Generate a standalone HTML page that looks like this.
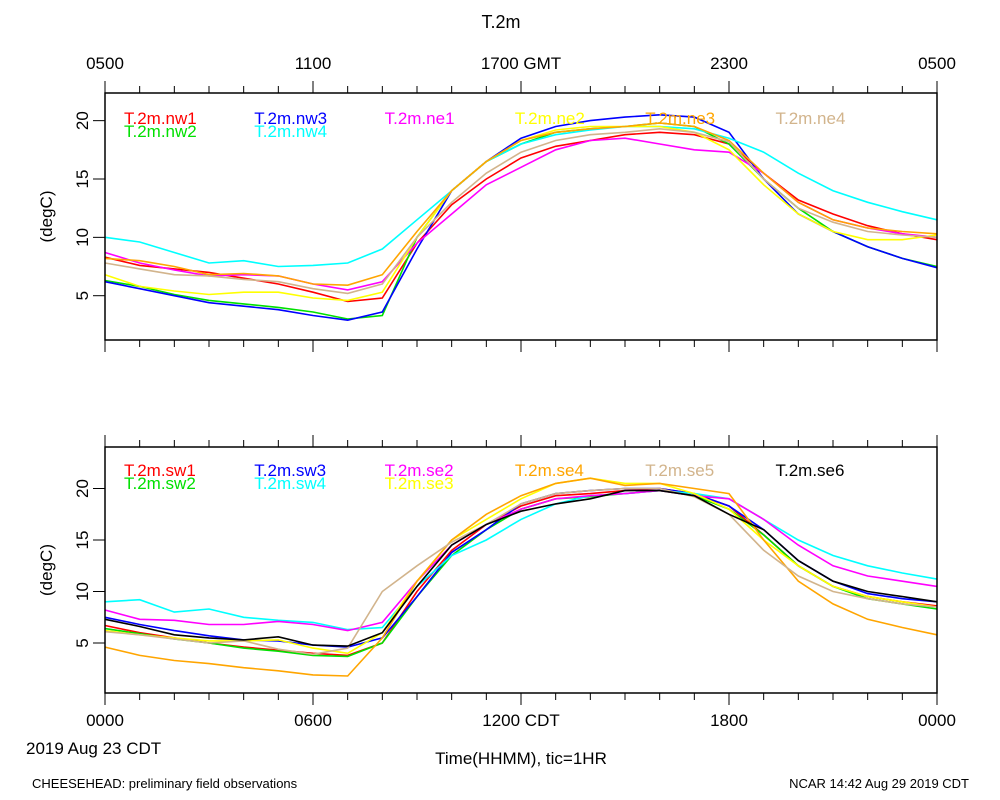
<!DOCTYPE html>
<html><head><meta charset="utf-8"><style>
body{margin:0;background:#fff;}
svg{display:block;font-family:"Liberation Sans",sans-serif;}
</style></head><body>
<svg id="chart" width="1000" height="800" viewBox="0 0 1000 800">
<text x="501" y="28" font-size="18" text-anchor="middle">T.2m</text>
<text x="26" y="754" font-size="17">2019 Aug 23 CDT</text>
<text x="521" y="764" font-size="17" text-anchor="middle">Time(HHMM), tic=1HR</text>
<text x="32" y="788" font-size="13">CHEESEHEAD: preliminary field observations</text>
<text x="969" y="788" font-size="13" text-anchor="end">NCAR 14:42 Aug 29 2019 CDT</text>
</svg>
<script>
const hours=[0,1,2,3,4,5,6,7,8,9,10,11,12,13,14,15,16,17,18,19,20,21,22,23,24];
const topTickLabels=["0500","1100","1700 GMT","2300","0500"];
const botTickLabels=["0000","0600","1200 CDT","1800","0000"];
const yTicks=[5,10,15,20];
const topNames=["T.2m.nw1","T.2m.nw2","T.2m.nw3","T.2m.nw4","T.2m.ne1","T.2m.ne2","T.2m.ne3","T.2m.ne4"];
const nw1=[8.3,7.6,7.3,7.0,6.5,6.0,5.3,4.5,4.8,9.5,12.8,15,16.8,17.8,18.3,18.8,19,18.8,18,15.5,13.2,12,11,10.3,9.8];
const nw2=[6.3,5.8,5.1,4.6,4.3,4.0,3.6,3.0,3.3,10,14,16.5,18,19,19.3,19.5,19.8,19.5,18,15,12.5,10.5,9.2,8.2,7.5];
const nw3=[6.2,5.6,5.0,4.4,4.1,3.8,3.3,2.9,3.6,9.0,14,16.5,18.5,19.5,20,20.3,20.5,20.3,19,15,12,10.5,9.2,8.2,7.4];
const nw4=[10,9.6,8.7,7.8,8.0,7.5,7.6,7.8,9.0,11.5,14,16.5,18,18.8,19.2,19.5,19.5,19.3,18.5,17.3,15.5,14,13,12.2,11.5];
const ne1=[8.7,7.8,7.2,6.7,6.8,6.7,6.0,5.5,6.2,9.5,12,14.5,16,17.5,18.3,18.5,18.0,17.5,17.3,15.5,13,11.5,10.8,10.3,10];
const ne2=[6.8,5.8,5.4,5.1,5.3,5.3,4.8,4.6,5.3,10,14,16.5,18.3,19.2,19.5,19.5,19.5,19,17.5,14.5,12,10.5,9.8,9.8,10.2];
const ne3=[8.2,8.0,7.5,6.8,6.9,6.7,6.0,5.9,6.8,10.5,14,16.5,18.3,19,19.3,19.5,19.8,19.5,18.3,15.5,13,11.5,10.8,10.5,10.3];
const ne4=[7.8,7.3,6.8,6.7,6.4,6.2,5.6,5.2,6.0,10,13,15.5,17.3,18.3,18.8,19,19.3,19,18.2,15,12.5,11.3,10.5,10.2,10];
const botNames=["T.2m.sw1","T.2m.sw2","T.2m.sw3","T.2m.sw4","T.2m.se2","T.2m.se3","T.2m.se4","T.2m.se5","T.2m.se6"];
const sw1=[6.7,6.0,5.5,5.0,4.6,4.3,4.0,3.8,5.0,10,14,16.5,18.3,19.3,19.5,19.8,20,19.5,18.3,15.5,12.5,10.5,9.5,9,8.6];
const sw2=[6.4,5.9,5.4,5.0,4.5,4.2,3.8,3.7,5.0,9.5,13.5,16,18,19,19.2,19.5,19.8,19.3,18,15.5,12.5,10.5,9.3,8.8,8.3];
const sw3=[7.5,6.8,6.2,5.7,5.3,5.2,4.8,4.6,5.5,9.5,13.8,16,18.5,19.5,19.8,20,20,19.5,18.3,16,13,11,9.8,9.3,9];
const sw4=[9,9.2,8.0,8.3,7.5,7.2,7.0,6.3,6.5,10.5,13.5,15,17,18.5,19.3,19.5,19.8,19.5,19,17,15,13.5,12.5,11.8,11.2];
const se2=[8.2,7.3,7.2,6.8,6.8,7.1,6.8,6.2,7.0,11,14.5,16.5,18,19,19.3,19.5,19.8,19.3,19,17,14.5,12.5,11.5,11,10.5];
const se3=[6.2,5.8,5.5,5.2,5.2,5.3,4.5,4.0,6,11,15,17,19,20.5,21,20.5,20.5,19.5,18,15,12.5,10.5,9.5,9,8.5];
const se4=[4.6,3.8,3.3,3.0,2.6,2.3,1.9,1.8,5.5,11,15,17.5,19.3,20.5,21,20.3,20.5,20,19.5,15,11,8.8,7.3,6.5,5.8];
const se5=[6.1,5.8,5.4,5.0,5.2,4.4,3.9,4.5,10,12.5,14.8,16.5,18.5,19.5,19.8,20,20,19.2,17.5,14,11.5,10,9.3,8.8,8.5];
const se6=[7.3,6.6,5.8,5.5,5.3,5.6,4.8,4.7,6.0,10.5,14.5,16.5,17.8,18.5,19,19.8,19.8,19.3,17.5,16,13,11,10,9.5,9];
/* legend slots: [column,row] */
const topLegendSlots=[[0,0],[0,1],[1,0],[1,1],[2,0],[3,0],[4,0],[5,0]];
const botLegendSlots=[[0,0],[0,1],[1,0],[1,1],[2,0],[2,1],[3,0],[4,0],[5,0]];

const NS="http://www.w3.org/2000/svg";
const svg=document.getElementById("chart");
function mk(tag,attrs,parent){const e=document.createElementNS(NS,tag);for(const k in attrs)e.setAttribute(k,attrs[k]);(parent||svg).appendChild(e);return e;}
const X0=105,X1=937;
function xs(h){return X0+(X1-X0)*h/24;}
const topColors=["#ff0000","#00e000","#0000ff","#00ffff","#ff00ff","#ffff00","#ffa500","#d2b48c"];
const botColors=["#ff0000","#00e000","#0000ff","#00ffff","#ff00ff","#ffff00","#ffa500","#d2b48c","#000000"];

function panel(key,top,bottom,y5,pxPerDeg,series,names,colors,tickLabels,labelY,slots,legY){
  const ys=v=>y5-(v-5)*pxPerDeg;
  const g=mk("g",{});
  
  
  series.forEach((s,i)=>{
    const d=s.map((v,j)=>(j?"L":"M")+xs(hours[j]).toFixed(1)+","+ys(v).toFixed(1)).join("");
    const p=mk("path",{d:d,fill:"none",stroke:colors[i],"stroke-width":1.6},g);
    
    
  });
  const box=mk("rect",{x:X0,y:top,width:X1-X0,height:bottom-top,fill:"none",stroke:"#000","stroke-width":1.5},g);
  
  
  for(let h=0;h<=24;h++){
    const len=h%6===0?12:7,x=xs(h);
    const t1=mk("line",{x1:x,x2:x,y1:top,y2:top-len,stroke:"#000","stroke-width":1},g);
    
    
    const t2=mk("line",{x1:x,x2:x,y1:bottom,y2:bottom+len,stroke:"#000","stroke-width":1},g);
    
    
  }
  tickLabels.forEach((lab,i)=>{
    const t=mk("text",{x:xs(i*6),y:labelY,"font-size":17,"text-anchor":"middle"},g);
    t.textContent=lab;
    
    
  });
  yTicks.forEach(v=>{
    const y=ys(v);
    const l=mk("line",{x1:X0-12,x2:X0,y1:y,y2:y,stroke:"#000","stroke-width":1},g);
    
    
    const t=mk("text",{x:0,y:0,"font-size":17,"text-anchor":"middle",transform:`translate(88,${y}) rotate(-90)`},g);
    t.textContent=v;
    
    
  });
  const yt=mk("text",{x:0,y:0,"font-size":17,"text-anchor":"middle",transform:`translate(52,${(top+bottom)/2}) rotate(-90)`},g);
  yt.textContent="(degC)";
  
  
  names.forEach((n,i)=>{
    const cx=124+slots[i][0]*130.3,cy=legY+slots[i][1]*13;
    const t=mk("text",{x:cx,y:cy,"font-size":17,fill:colors[i]},g);
    t.textContent=n;
    
    
  });
}
panel("top",93,340,295.7,11.67,[nw1,nw2,nw3,nw4,ne1,ne2,ne3,ne4],topNames,topColors,topTickLabels,69,topLegendSlots,124);
panel("bottom",447,693,643,10.3,[sw1,sw2,sw3,sw4,se2,se3,se4,se5,se6],botNames,botColors,botTickLabels,726,botLegendSlots,476);
</script>
</body></html>
